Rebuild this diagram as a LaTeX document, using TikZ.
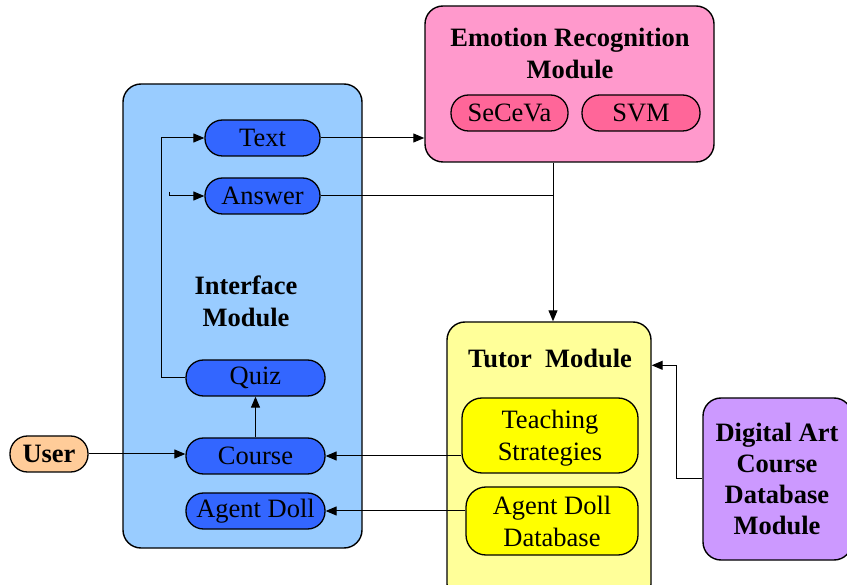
\documentclass[tikz,border=0pt]{standalone}
\usepackage{fontspec}
\setmainfont{Liberation Serif}
\usetikzlibrary{arrows.meta,calc}
\definecolor{ifaceblue}{HTML}{99CCFF}
\definecolor{pillblue}{HTML}{3366FF}
\definecolor{emopink}{HTML}{FF99CC}
\definecolor{pilpink}{HTML}{FF6699}
\definecolor{tutoryellow}{HTML}{FFFF99}
\definecolor{boxyellow}{HTML}{FFFF00}
\definecolor{dbpurple}{HTML}{CC99FF}
\definecolor{userorange}{HTML}{FFCC99}
\begin{document}
\begin{tikzpicture}[x=1pt,y=-1pt,
  txt/.style={font=\fontsize{26.5}{32}\selectfont},
  module/.style={draw,line width=1.4pt,rounded corners=18pt,inner sep=0pt},
  pill/.style={draw,line width=1.3pt,rounded corners=17.5pt,inner sep=0pt,
    minimum height=36pt,txt},
  inbox/.style={draw,line width=1.3pt,rounded corners=20pt,inner sep=0pt},
  boxtext/.style={inner sep=0pt,align=center,txt},
  title/.style={inner sep=0pt,align=center,font=\fontsize{26.5}{32}\selectfont\bfseries},
  arr/.style={line width=1pt,-{Triangle[length=11pt,width=9pt]}},
  link/.style={line width=1pt}]
\useasboundingbox (0,0) rectangle (847,585);
\clip (0,0) rectangle (847,585);

% module frames
\node[module,fill=ifaceblue,minimum width=239pt,minimum height=464pt] (iface) at (242.5,316) {};
\node[module,fill=emopink,minimum width=289pt,minimum height=156pt] (emo) at (569.5,84) {};
\node[module,fill=tutoryellow,minimum width=204pt,minimum height=280pt] (tutor) at (549,462) {};
\node[module,fill=dbpurple,minimum width=149pt,minimum height=162pt] (digital) at (777.5,479) {};

% module titles
\node[title] (emotitle) at (570,53) {Emotion Recognition\\Module};
\node[title] (ifacetitle) at (246,301) {Interface\\Module};
\node[title] (tutortitle) at (550,358) {Tutor\ \ Module};
\node[title,font=\fontsize{26.5}{31}\selectfont\bfseries] (digtitle) at (777,478.5) {Digital Art\\Course\\Database\\Module};

% interface items
\node[pill,fill=pillblue,minimum width=115pt] (text) at (262.5,138) {Text};
\node[pill,fill=pillblue,minimum width=115pt] (answer) at (262.5,196) {Answer};
\node[pill,fill=pillblue,minimum width=139pt] (quiz) at (255.5,378) {Quiz};
\node[pill,fill=pillblue,minimum width=139pt] (course) at (255.5,456) {Course};
\node[pill,fill=pillblue,minimum width=139pt] (agent) at (255.5,511) {Agent Doll};
\node[pill,fill=userorange,minimum width=78pt,font=\fontsize{26.5}{32}\selectfont\bfseries] (user) at (49,454) {User};

% emotion recognition items
\node[pill,fill=pilpink,minimum width=117pt] (seceva) at (509.5,113) {SeCeVa};
\node[pill,fill=pilpink,minimum width=118pt] (svm) at (641,113) {SVM};

% tutor items
\node[inbox,fill=boxyellow,minimum width=176pt,minimum height=75pt] (teach) at (550,435.5) {};
\node[boxtext] (teachtext) at ([yshift=-3pt]teach.center) {Teaching\\Strategies};
\node[inbox,fill=boxyellow,minimum width=172pt,minimum height=68pt] (agentdb) at (552,521) {};
\node[boxtext] (agentdbtext) at (agentdb.center) {Agent Doll\\Database};

% connectors
\coordinate (drop) at ($(emo.south)+(-16.5,0)$);
\coordinate (tick) at (169,192);
\draw[arr] (text.east) -- (text.east -| emo.west);
\draw[arr] (drop) -- (drop |- tutor.north);
\draw[link] (answer.east) -- (answer.east -| drop);
\draw[arr] (quiz.west) -- ++(-24,0) |- (text.west);
\draw[arr] (tick) |- (answer.west);
\draw[arr] (course.north) -- (quiz.south);
\draw[arr] (user.east) -- (user.east -| course.west);
\draw[arr] (course.east -| teach.west) -- (course.east);
\draw[arr] (agent.east -| agentdb.west) -- (agent.east);
\draw[arr] (digital.west) -- ++(-26,0) |- ($(tutor.north east)+(0,44)$);
\end{tikzpicture}
\end{document}
